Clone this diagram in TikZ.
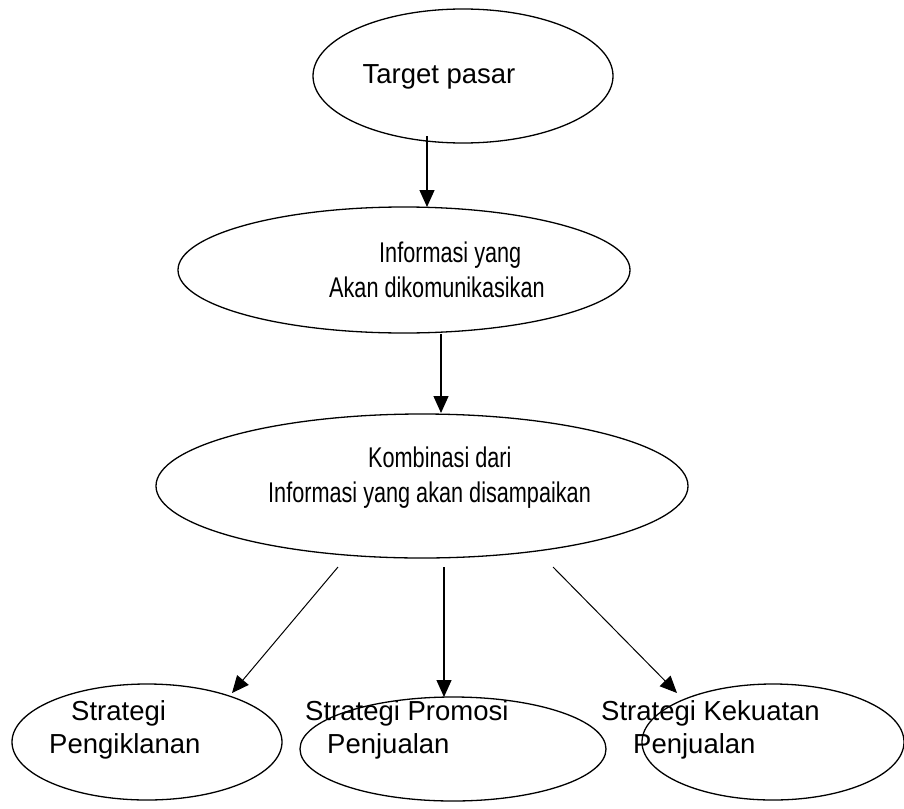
\documentclass[tikz,border=0pt]{standalone}
\usepackage{fontspec}
\setmainfont{Liberation Sans}
\newfontfamily\condfont[FakeStretch=0.76]{Liberation Sans}
\usetikzlibrary{shapes.geometric,arrows.meta}
\begin{document}
\begin{tikzpicture}[x=1pt,y=-1pt,
  oval/.style={draw=black,line width=1.3pt,ellipse,inner sep=0pt},
  lbl/.style={align=center,inner sep=0pt,font=\fontsize{27.5}{33}\selectfont},
  clbl/.style={align=left,inner sep=0pt,anchor=west,font=\condfont\fontsize{28.5}{35}\selectfont},
  arr/.style={line width=1.3pt,-{Triangle[length=17pt,width=15pt]}},
  thinarr/.style={line width=1pt,-{Triangle[length=17pt,width=15pt]}}]
\useasboundingbox (0,0) rectangle (904,808);
% ellipses
\node[oval,minimum width=300pt,minimum height=134pt] (e1) at (463,76) {};
\node[oval,minimum width=452pt,minimum height=126pt] (e2) at (404,270) {};
\node[oval,minimum width=532pt,minimum height=144pt] (e3) at (422,486) {};
\node[oval,minimum width=270pt,minimum height=116pt] (e4) at (147,742) {};
\node[oval,minimum width=306pt,minimum height=104pt] (e5) at (453,749) {};
\node[oval,minimum width=262pt,minimum height=116pt] (e6) at (773,742) {};
% texts
\node[lbl] (t1) at (439,77) {Target pasar};
\node[clbl] (t2) at (329,270) {\hspace*{50pt}Informasi yang\\Akan dikomunikasikan};
\node[clbl] (t3) at (268,478) {\hspace*{100pt}Kombinasi dari\\Informasi yang akan disampaikan};
\node[lbl,align=left,anchor=west] (t4) at (49,730) {\hspace*{22pt}Strategi\\Pengiklanan};
\node[lbl,align=left,anchor=west] (t5) at (305,730) {Strategi Promosi\\\hspace*{22pt}Penjualan};
\node[lbl,align=left,anchor=west] (t6) at (601,730) {Strategi Kekuatan\\\hspace*{32pt}Penjualan};
% connector points
\coordinate (a1s) at (427,136);
\coordinate (a1e) at (427,207);
\coordinate (a2s) at (441,334);
\coordinate (a2e) at (441,413);
\coordinate (a3s) at (338,567);
\coordinate (a3e) at (232,693);
\coordinate (a4s) at (444,567);
\coordinate (a4e) at (444,697);
\coordinate (a5s) at (553,567);
\coordinate (a5e) at (677,693);
\draw[arr] (a1s) -- (a1e);
\draw[arr] (a2s) -- (a2e);
\draw[thinarr] (a3s) -- (a3e);
\draw[arr] (a4s) -- (a4e);
\draw[thinarr] (a5s) -- (a5e);
\end{tikzpicture}
\end{document}
